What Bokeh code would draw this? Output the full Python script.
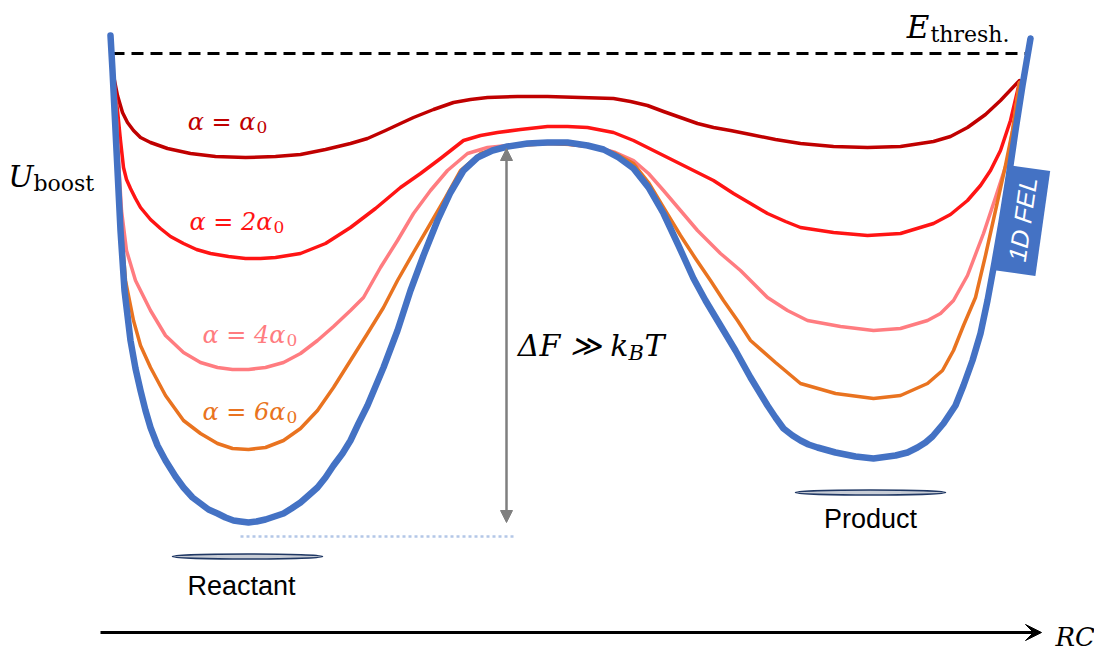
from bokeh.plotting import figure
from bokeh.models import Range1d, Arrow, NormalHead, VeeHead
from bokeh.embed import file_html
from bokeh.resources import INLINE
from bokeh.core.properties import value

W, H = 1094, 650

# ---- data (x = reaction coordinate, y read as pixel row from top; converted to height below)
rc_fel = [110, 112, 114, 117, 120, 124, 130, 135, 140, 145, 150, 157, 165, 175, 183, 192, 200, 208, 217, 225,
          233, 240, 248, 256, 265, 274, 283, 291, 300, 308, 317, 325, 333, 342, 350, 358, 367, 375, 383, 397,
          410, 423, 437, 450, 463, 477, 492, 507, 527, 547, 567, 587, 603, 618, 633, 648,
          663, 678, 693, 705, 720, 735, 750, 767, 775, 783, 792, 800, 808, 817, 835, 855, 873, 895, 907, 917,
          925, 932, 943, 955, 963, 972, 980, 987, 994, 1001, 1008, 1015, 1022, 1030]
row_fel = [35, 70, 110, 170, 230, 290, 340, 368, 390, 410, 427, 445, 460, 476, 487, 497, 503, 509, 513, 517,
           520, 521, 522, 521, 519, 516, 513, 508, 502, 495, 487, 477, 465, 453, 440, 423, 405, 386, 367, 330,
           290, 255, 220, 192, 170, 157, 150, 146, 143, 142, 142, 145, 149, 157, 168, 187,
           213, 245, 278, 300, 325, 350, 377, 405, 417, 428, 435, 440, 444, 447, 452, 456, 458, 455, 452, 447,
           442, 436, 423, 405, 385, 360, 333, 300, 262, 222, 178, 130, 85, 38]

rc_a1 = [113, 117, 122, 127, 133, 140, 150, 167, 190, 215, 245, 275, 300, 325, 350, 367, 385, 400, 413, 433,
         453, 470, 487, 517, 547, 580, 613, 630, 647, 663, 680, 697, 713, 730, 750, 775, 800, 833, 867, 900,
         933, 950, 967, 985, 1000, 1019]
row_a1 = [75, 95, 112, 122, 130, 137, 142, 148, 153, 156, 157, 156, 154, 149, 143, 138, 130, 123, 117, 109,
          102, 99, 97, 96, 96, 97, 98, 101, 105, 111, 117, 123, 127, 130, 134, 139, 143, 146, 147, 146,
          141, 136, 127, 114, 100, 80]

rc_a2 = [114, 117, 120, 123, 126, 130, 135, 140, 150, 160, 170, 183, 196, 210, 228, 245, 260, 275, 300, 325,
         350, 375, 400, 420, 440, 463, 480, 497, 520, 547, 567, 587, 613, 633, 653, 673, 693, 713, 733, 750,
         767, 785, 800, 833, 867, 900, 933, 950, 967, 980, 990, 1000, 1010, 1019]
row_a2 = [85, 110, 140, 167, 179, 188, 198, 207, 219, 228, 236, 243, 249, 253, 256, 258, 258, 257, 253, 243,
          227, 208, 187, 173, 158, 140, 135, 132, 129, 126, 126, 127, 132, 140, 150, 160, 170, 180, 193, 203,
          213, 221, 227, 232, 235, 233, 223, 214, 200, 185, 170, 150, 120, 82]

rc_a4 = [115, 118, 121, 126, 135, 150, 165, 183, 200, 217, 232, 248, 265, 283, 300, 317, 333, 350, 363, 380,
         397, 413, 430, 447, 467, 487, 507, 527, 547, 570, 597, 615, 633, 648, 663, 680, 697, 720, 740, 767,
         787, 807, 840, 873, 900, 927, 940, 953, 967, 983, 995, 1007, 1013, 1019]
row_a4 = [100, 160, 210, 250, 280, 310, 335, 352, 362, 367, 369, 369, 367, 362, 353, 340, 326, 310, 297, 267,
          240, 213, 190, 170, 153, 147, 145, 143, 142, 144, 147, 152, 160, 173, 190, 210, 230, 253, 270, 297,
          310, 320, 326, 330, 328, 320, 313, 300, 275, 233, 197, 160, 125, 82]

rc_a6 = [115, 118, 121, 125, 133, 140, 150, 165, 183, 200, 217, 232, 248, 265, 283, 300, 317, 333, 350, 367,
         383, 397, 413, 430, 445, 460, 480, 500, 520, 547, 570, 597, 615, 633, 648, 663, 680, 695, 710, 723,
         737, 750, 775, 800, 835, 873, 900, 927, 942, 953, 963, 975, 985, 995, 1005, 1012, 1019]
row_a6 = [100, 170, 230, 280, 320, 345, 367, 395, 420, 433, 443, 448, 449, 447, 440, 428, 410, 387, 360, 333,
          307, 280, 252, 223, 197, 170, 153, 147, 145, 143, 144, 147, 153, 163, 182, 207, 235, 258, 280, 300,
          320, 340, 362, 383, 393, 398, 395, 383, 370, 350, 325, 297, 255, 210, 165, 130, 82]

curve_labels = ["\u03b1 = \u03b1", "\u03b1 = 2\u03b1", "\u03b1 = 4\u03b1", "\u03b1 = 6\u03b1"]
label_sub = ["0", "0", "0", "0"]
label_end_rc = [255, 272, 285, 285]
label_row = [131, 231, 344, 421]

threshold_row = 53
threshold_rc = [112, 1025]
basin_rc = [247, 870]
basin_row = [556, 492]
basin_names = ["Reactant", "Product"]
basin_name_rc = [241, 870]
basin_name_row = [585, 518]
barrier_rc = 506
barrier_rows = [148, 522]
reactant_min_row = 536
reactant_min_rc = [240, 513]

FIX = 10  # raise baseline-anchored texts to match the rendered baseline


def h(rows):
    return [H - r for r in rows]


def hb(rows):
    return [H - r + FIX for r in rows]


p = figure(width=W, height=H, x_range=Range1d(0, W), y_range=Range1d(0, H),
           output_backend="svg", toolbar_location=None, min_border=0,
           background_fill_color="white", border_fill_color="white", outline_line_color=None)
p.axis.visible = False
p.grid.visible = False

# threshold line
p.line(threshold_rc, h([threshold_row, threshold_row]), line_color="black", line_width=3, line_dash="12 7")

# curves
colors = ["#C00000", "#FF1414", "#FF7C80", "#E97320"]
for xs, ys, c in zip([rc_a1, rc_a2, rc_a4, rc_a6], [row_a1, row_a2, row_a4, row_a6], colors):
    p.line(xs, h(ys), line_color=c, line_width=3.5, line_join="round", line_cap="round")
p.line(rc_fel, h(row_fel), line_color="#4472C4", line_width=6.5, line_join="round", line_cap="round")

# 1D FEL tag
p.rect(x=[1021], y=h([220]), width=43, height=106, angle=-0.14, fill_color="#4472C4", line_color=None)
p.text(x=[1022], y=h([219]), text=["1D FEL"], angle=1.43, text_align="center", text_baseline="middle",
       text_color="white", text_font=value("Liberation Sans"), text_font_style="italic", text_font_size="25px")

# curve labels
mfont = value("DejaVu Serif")
p.text(x=label_end_rc, y=hb(label_row), text=curve_labels, text_color=colors, text_align="right",
       text_baseline="alphabetic", text_font=mfont, text_font_style="italic", text_font_size="24px")
p.text(x=[x + 1 for x in label_end_rc], y=hb([r + 5 for r in label_row]), text=label_sub, text_color=colors,
       text_align="left", text_baseline="alphabetic", text_font=mfont, text_font_size="17px")

# barrier arrow
gray = "#7F7F7F"
p.add_layout(Arrow(start=NormalHead(size=12, fill_color=gray, line_color=gray),
                   end=NormalHead(size=12, fill_color=gray, line_color=gray),
                   x_start=barrier_rc, y_start=H - barrier_rows[1], x_end=barrier_rc,
                   y_end=H - barrier_rows[0], line_color=gray, line_width=2.5))
p.line(reactant_min_rc, h([reactant_min_row, reactant_min_row]), line_color="#B4C7E7", line_width=2.5,
       line_dash="3 3")

# Delta F label
p.text(x=[628], y=hb([355]), text=["\u0394F \u226b k"], text_align="right", text_baseline="alphabetic",
       text_font=mfont, text_font_style="italic", text_font_size="30px", text_color="black")
p.text(x=[628], y=hb([362]), text=["B"], text_align="left", text_baseline="alphabetic",
       text_font=mfont, text_font_style="italic", text_font_size="21px", text_color="black")
p.text(x=[644], y=hb([355]), text=["T"], text_align="left", text_baseline="alphabetic",
       text_font=mfont, text_font_style="italic", text_font_size="30px", text_color="black")

# U_boost
p.text(x=[33], y=hb([186]), text=["U"], text_align="right", text_baseline="alphabetic",
       text_font=mfont, text_font_style="italic", text_font_size="30px", text_color="black")
p.text(x=[33], y=hb([193]), text=["boost"], text_align="left", text_baseline="alphabetic",
       text_font=mfont, text_font_size="22px", text_color="black")

# E_thresh
p.text(x=[929], y=hb([36]), text=["E"], text_align="right", text_baseline="alphabetic",
       text_font=mfont, text_font_style="italic", text_font_size="31px", text_color="black")
p.text(x=[930], y=hb([44]), text=["thresh."], text_align="left", text_baseline="alphabetic",
       text_font=mfont, text_font_size="22px", text_color="black")

# basins
p.ellipse(x=basin_rc, y=h(basin_row), width=150, height=5, fill_color="#C8CDD6", line_color="#203864",
          line_width=1.5)
p.text(x=basin_name_rc, y=h(basin_name_row), text=basin_names, text_align="center", text_baseline="middle",
       text_font=value("Liberation Sans"), text_font_size="27px", text_color="black")

# RC axis arrow
p.add_layout(Arrow(end=VeeHead(size=16, fill_color="black", line_color="black"),
                   x_start=100, y_start=H - 632, x_end=1041, y_end=H - 632,
                   line_color="black", line_width=3))
p.text(x=[1055], y=hb([646]), text=["RC"], text_align="left", text_baseline="alphabetic",
       text_font=mfont, text_font_style="italic", text_font_size="26px", text_color="black")

open("out.html", "w").write(file_html(p, INLINE))
